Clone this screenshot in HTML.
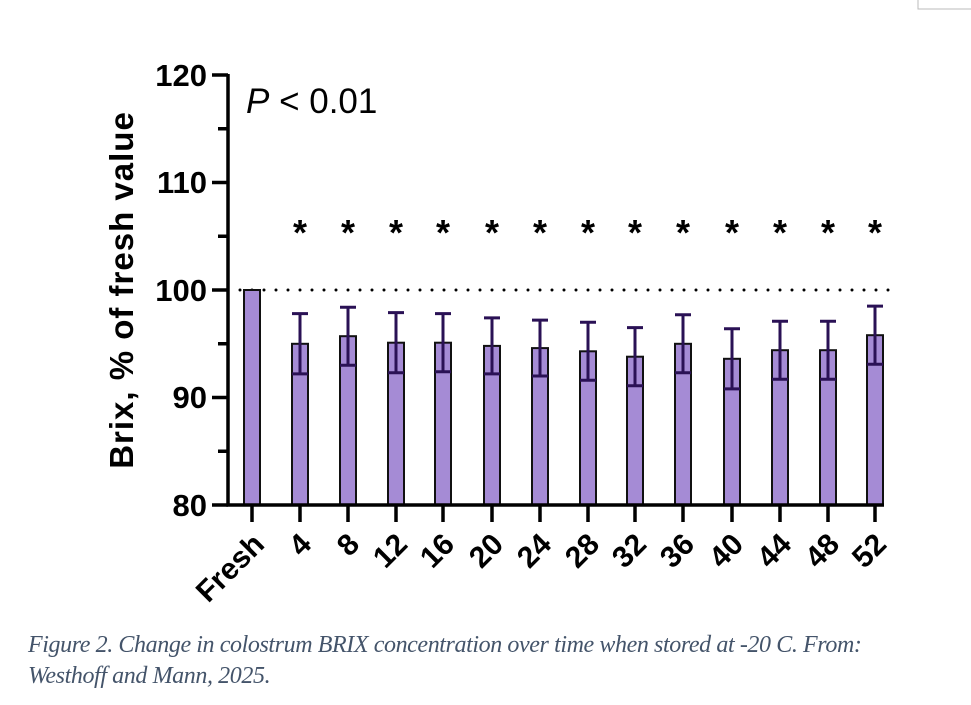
<!DOCTYPE html>
<html><head><style>
body{margin:0;background:#fff;width:971px;height:705px;overflow:hidden;position:relative}
.cap{position:absolute;left:28px;font-family:"Liberation Serif",serif;font-style:italic;font-size:24px;color:#44546a;letter-spacing:-0.4px;white-space:nowrap}
</style></head><body>
<svg width="971" height="705" style="position:absolute;left:0;top:0" font-family="Liberation Sans, sans-serif">
<path d="M918 0V9H971" fill="none" stroke="#bbb" stroke-width="1"/>
<line x1="240" y1="290" x2="890" y2="290" stroke="#000" stroke-width="3" stroke-dasharray="0 12" stroke-linecap="round"/>
<g fill="#a58bd5" stroke="#111" stroke-width="2">
<rect x="244" y="290" width="16" height="215"/>
<rect x="292" y="343.8" width="16" height="161.2"/>
<rect x="340" y="336.2" width="16" height="168.8"/>
<rect x="388" y="342.7" width="16" height="162.3"/>
<rect x="435" y="342.7" width="16" height="162.3"/>
<rect x="484" y="345.9" width="16" height="159.1"/>
<rect x="532" y="348.1" width="16" height="156.9"/>
<rect x="580" y="351.3" width="16" height="153.7"/>
<rect x="627" y="356.7" width="16" height="148.3"/>
<rect x="675" y="343.8" width="16" height="161.2"/>
<rect x="724" y="358.8" width="16" height="146.2"/>
<rect x="772" y="350.2" width="16" height="154.8"/>
<rect x="820" y="350.2" width="16" height="154.8"/>
<rect x="867" y="335.2" width="16" height="169.8"/>
</g>
<g stroke="#2a1155" stroke-width="3" fill="none">
<path d="M300 313.6V373.9M292 313.6H308M292 373.9H308"/>
<path d="M348 307.2V365.3M340 307.2H356M340 365.3H356"/>
<path d="M396 312.6V372.8M388 312.6H404M388 372.8H404"/>
<path d="M443 313.6V371.7M435 313.6H451M435 371.7H451"/>
<path d="M492 317.9V373.9M484 317.9H500M484 373.9H500"/>
<path d="M540 320.1V376M532 320.1H548M532 376H548"/>
<path d="M588 322.3V380.3M580 322.3H596M580 380.3H596"/>
<path d="M635 327.6V385.7M627 327.6H643M627 385.7H643"/>
<path d="M683 314.7V372.8M675 314.7H691M675 372.8H691"/>
<path d="M732 328.7V388.9M724 328.7H740M724 388.9H740"/>
<path d="M780 321.2V379.3M772 321.2H788M772 379.3H788"/>
<path d="M828 321.2V379.3M820 321.2H836M820 379.3H836"/>
<path d="M875 306.1V364.2M867 306.1H883M867 364.2H883"/>
</g>
<g stroke="#000" stroke-width="3.5" fill="none">
<path d="M228 74V505H884"/>
<path d="M212 75H228M212 182.5H228M212 290H228M212 397.5H228M212 505H228"/>
<path d="M218 128.75H228M218 236.25H228M218 343.75H228M218 451.25H228"/>
<path d="M252 505V522M300 505V522M348 505V522M396 505V522M443 505V522M492 505V522M540 505V522M588 505V522M635 505V522M683 505V522M732 505V522M780 505V522M828 505V522M875 505V522"/>
</g>
<g font-size="31" font-weight="bold" text-anchor="end">
<text x="207" y="86">120</text><text x="207" y="193">110</text><text x="207" y="301">100</text><text x="207" y="408">90</text><text x="207" y="516">80</text>
</g>
<text transform="translate(133,290) rotate(-90)" text-anchor="middle" font-size="33" font-weight="bold" letter-spacing="1">Brix, % of fresh value</text>
<text x="246" y="113" font-size="35"><tspan font-style="italic">P</tspan> &lt; 0.01</text>
<g font-size="36" font-weight="bold" text-anchor="middle">
<text x="300" y="245">*</text><text x="348" y="245">*</text><text x="396" y="245">*</text><text x="443" y="245">*</text><text x="492" y="245">*</text><text x="540" y="245">*</text><text x="588" y="245">*</text><text x="635" y="245">*</text><text x="683" y="245">*</text><text x="732" y="245">*</text><text x="780" y="245">*</text><text x="828" y="245">*</text><text x="875" y="245">*</text>
</g>
<g font-size="30" font-weight="bold" text-anchor="end">
<text transform="translate(266,546) rotate(-45)">Fresh</text>
<text transform="translate(313,546) rotate(-45)">4</text>
<text transform="translate(361,546) rotate(-45)">8</text>
<text transform="translate(409,546) rotate(-45)">12</text>
<text transform="translate(456,546) rotate(-45)">16</text>
<text transform="translate(505,546) rotate(-45)">20</text>
<text transform="translate(553,546) rotate(-45)">24</text>
<text transform="translate(601,546) rotate(-45)">28</text>
<text transform="translate(648,546) rotate(-45)">32</text>
<text transform="translate(696,546) rotate(-45)">36</text>
<text transform="translate(745,546) rotate(-45)">40</text>
<text transform="translate(793,546) rotate(-45)">44</text>
<text transform="translate(841,546) rotate(-45)">48</text>
<text transform="translate(888,546) rotate(-45)">52</text>
</g>
</svg>
<div class="cap" style="top:632px">Figure 2. Change in colostrum BRIX concentration over time when stored at -20 C. From:</div>
<div class="cap" style="top:663px">Westhoff and Mann, 2025.</div>
</body></html>
